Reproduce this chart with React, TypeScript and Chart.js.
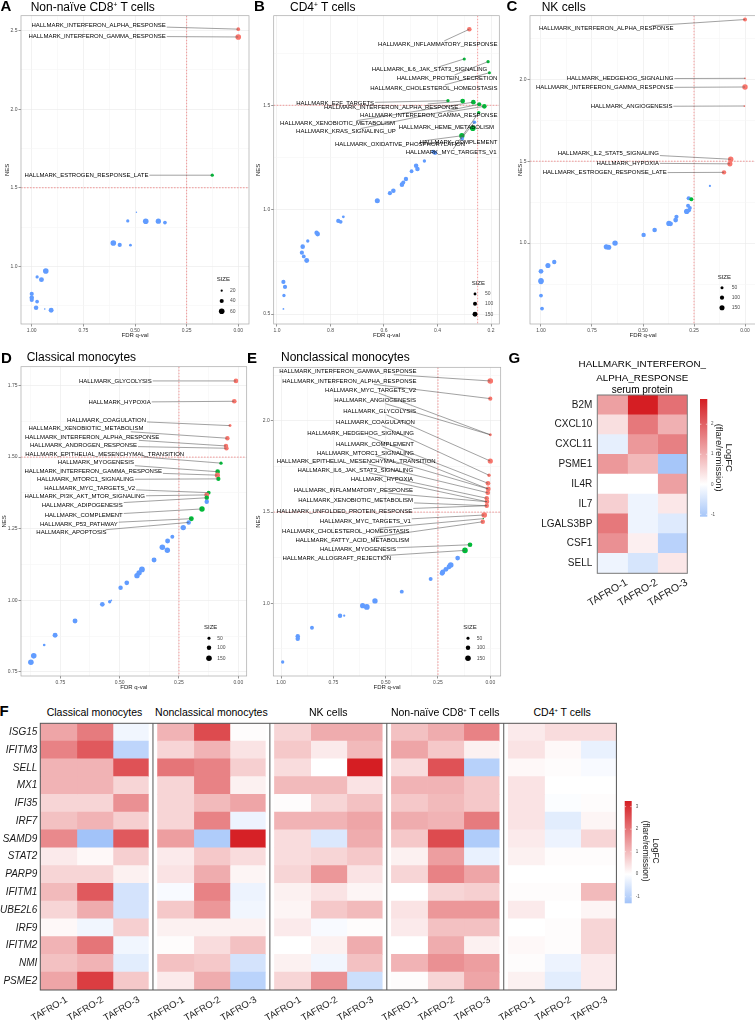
import React, { useEffect, useRef } from 'react';
import { Chart, registerables } from 'chart.js';

Chart.register(...registerables);

const FONT = '"Liberation Sans", Arial, Helvetica, sans-serif';
Chart.defaults.font.family = FONT;

const GROUP_COLORS: Record<string, string> = { r: '#F8766D', g: '#00BA38', b: '#619CFF' };
const FDR_CUTOFF = 0.25;
const NES_CUTOFF = 1.5;

/* ---------------- Panel A: Non-naive CD8+ T cells ---------------- */
const A_FDR = [0.0, 0.0, 0.126, 0.493, 0.535, 0.448, 0.387, 0.355, 0.605, 0.574, 0.522, 0.932, 0.974, 0.953, 1.0, 1.0, 1.0, 0.974, 0.979, 0.937, 0.906];
const A_NES = [2.51, 2.46, 1.58, 1.344, 1.289, 1.287, 1.287, 1.278, 1.148, 1.136, 1.134, 0.97, 0.932, 0.915, 0.824, 0.8, 0.785, 0.775, 0.736, 0.728, 0.72];
const A_SIZE = [35, 60, 30, 10, 30, 60, 55, 35, 60, 40, 25, 60, 30, 50, 40, 45, 40, 35, 45, 15, 50];
const A_GROUP = 'rrgbbbbbbbbbbbbbbbbbb';
const A_LABELS = ['HALLMARK_INTERFERON_ALPHA_RESPONSE', 'HALLMARK_INTERFERON_GAMMA_RESPONSE', 'HALLMARK_ESTROGEN_RESPONSE_LATE'];
const A_LABEL_POINT = [0, 1, 2];
const A_LABEL_AT = [[0.351, 2.535], [0.351, 2.465], [0.435, 1.58]];

/* ---------------- Panel B: CD4+ T cells ---------------- */
const B_FDR = [0.281, 0.3, 0.211, 0.206, 0.361, 0.306, 0.266, 0.244, 0.225, 0.246, 0.262, 0.268, 0.309, 0.308, 0.409, 0.416, 0.449, 0.48, 0.475, 0.497, 0.518, 0.533, 0.528, 0.565, 0.578, 0.625, 0.752, 0.771, 0.762, 0.848, 0.852, 0.885, 0.904, 0.907, 0.9, 0.889, 0.976, 0.97, 0.974, 0.976];
const B_NES = [1.864, 1.722, 1.709, 1.656, 1.522, 1.52, 1.515, 1.505, 1.495, 1.465, 1.419, 1.39, 1.354, 1.34, 1.272, 1.278, 1.233, 1.21, 1.195, 1.184, 1.147, 1.12, 1.13, 1.091, 1.079, 1.043, 0.966, 0.946, 0.942, 0.883, 0.89, 0.85, 0.823, 0.794, 0.776, 0.757, 0.654, 0.63, 0.589, 0.525];
const B_SIZE = [130, 60, 70, 60, 70, 140, 140, 110, 140, 70, 80, 200, 180, 90, 110, 90, 70, 130, 130, 90, 120, 130, 100, 130, 110, 160, 50, 110, 90, 140, 120, 70, 130, 110, 90, 150, 110, 110, 70, 20];
const B_GROUP = 'rgggggggggbggbbbbbbbbbbbbbbbbbbbbbbbbbbb';
const B_LABELS = ['HALLMARK_INFLAMMATORY_RESPONSE', 'HALLMARK_IL6_JAK_STAT3_SIGNALING', 'HALLMARK_PROTEIN_SECRETION', 'HALLMARK_CHOLESTEROL_HOMEOSTASIS', 'HALLMARK_E2F_TARGETS', 'HALLMARK_INTERFERON_ALPHA_RESPONSE', 'HALLMARK_INTERFERON_GAMMA_RESPONSE', 'HALLMARK_XENOBIOTIC_METABOLISM', 'HALLMARK_HEME_METABOLISM', 'HALLMARK_KRAS_SIGNALING_UP', 'HALLMARK_OXIDATIVE_PHOSPHORYLATION', 'HALLMARK_COMPLEMENT', 'HALLMARK_MYC_TARGETS_V1'];
const B_LABEL_POINT = [0, 1, 2, 3, 4, 5, 8, 6, 11, 7, 12, 10, 9];
const B_LABEL_AT = [[0.176, 1.794], [0.214, 1.67], [0.176, 1.631], [0.176, 1.583], [0.637, 1.51], [0.322, 1.492], [0.176, 1.452], [0.559, 1.412], [0.189, 1.393], [0.556, 1.374], [0.297, 1.315], [0.176, 1.323], [0.179, 1.276]];

/* ---------------- Panel C: NK cells ---------------- */
const C_FDR = [0.0, 0.0, 0.0, 0.003, 0.07, 0.074, 0.103, 0.172, 0.276, 0.263, 0.279, 0.27, 0.286, 0.275, 0.34, 0.336, 0.373, 0.365, 0.443, 0.497, 0.637, 0.668, 0.68, 0.935, 0.966, 1.0, 1.0, 1.0, 1.0, 0.995];
const C_NES = [2.365, 2.006, 1.953, 1.837, 1.512, 1.484, 1.432, 1.349, 1.274, 1.268, 1.228, 1.215, 1.193, 1.2, 1.141, 1.161, 1.12, 1.118, 1.08, 1.05, 1.0, 0.975, 0.977, 0.885, 0.863, 0.828, 0.77, 0.765, 0.68, 0.6];
const C_SIZE = [90, 15, 170, 15, 170, 150, 110, 25, 100, 90, 90, 80, 160, 100, 130, 100, 160, 130, 120, 110, 170, 150, 150, 110, 150, 130, 170, 150, 80, 80];
const C_GROUP = 'rrrrrrrbbgbbbbbbbbbbbbbbbbbbbb';
const C_LABELS = ['HALLMARK_INTERFERON_ALPHA_RESPONSE', 'HALLMARK_HEDGEHOG_SIGNALING', 'HALLMARK_INTERFERON_GAMMA_RESPONSE', 'HALLMARK_ANGIOGENESIS', 'HALLMARK_IL2_STAT5_SIGNALING', 'HALLMARK_HYPOXIA', 'HALLMARK_ESTROGEN_RESPONSE_LATE'];
const C_LABEL_POINT = [0, 1, 2, 3, 4, 5, 6];
const C_LABEL_AT = [[0.351, 2.309], [0.351, 2.004], [0.351, 1.949], [0.356, 1.835], [0.422, 1.551], [0.422, 1.488], [0.384, 1.429]];

/* ---------------- Panel D: Classical monocytes ---------------- */
const D_FDR = [0.01, 0.017, 0.035, 0.046, 0.052, 0.05, 0.073, 0.087, 0.088, 0.084, 0.125, 0.133, 0.133, 0.133, 0.153, 0.198, 0.209, 0.232, 0.278, 0.298, 0.32, 0.299, 0.355, 0.406, 0.418, 0.427, 0.47, 0.496, 0.542, 0.535, 0.573, 0.688, 0.772, 0.818, 0.862, 0.874];
const D_NES = [1.766, 1.695, 1.61, 1.566, 1.539, 1.531, 1.479, 1.449, 1.437, 1.424, 1.376, 1.368, 1.358, 1.344, 1.319, 1.285, 1.272, 1.254, 1.222, 1.207, 1.185, 1.175, 1.141, 1.108, 1.096, 1.086, 1.061, 1.044, 0.995, 1.0, 0.986, 0.928, 0.878, 0.844, 0.806, 0.784];
const D_SIZE = [110, 110, 50, 100, 100, 100, 60, 110, 130, 90, 80, 120, 100, 100, 140, 120, 100, 140, 80, 120, 150, 140, 120, 160, 140, 140, 110, 100, 60, 20, 110, 120, 120, 40, 150, 150];
const D_GROUP = 'rrrrrrggrggrgbggbbbbbbbbbbbbbbbbbbbb';
const D_LABELS = ['HALLMARK_GLYCOLYSIS', 'HALLMARK_HYPOXIA', 'HALLMARK_COAGULATION', 'HALLMARK_XENOBIOTIC_METABOLISM', 'HALLMARK_INTERFERON_ALPHA_RESPONSE', 'HALLMARK_ANDROGEN_RESPONSE', 'HALLMARK_EPITHELIAL_MESENCHYMAL_TRANSITION', 'HALLMARK_MYOGENESIS', 'HALLMARK_INTERFERON_GAMMA_RESPONSE', 'HALLMARK_MTORC1_SIGNALING', 'HALLMARK_MYC_TARGETS_V2', 'HALLMARK_PI3K_AKT_MTOR_SIGNALING', 'HALLMARK_ADIPOGENESIS', 'HALLMARK_COMPLEMENT', 'HALLMARK_P53_PATHWAY', 'HALLMARK_APOPTOSIS'];
const D_LABEL_POINT = [0, 1, 2, 3, 4, 5, 6, 7, 8, 9, 10, 11, 12, 14, 15, 16];
const D_LABEL_AT = [[0.365, 1.766], [0.369, 1.692], [0.389, 1.629], [0.4, 1.599], [0.333, 1.569], [0.427, 1.54], [0.228, 1.511], [0.44, 1.48], [0.322, 1.451], [0.44, 1.422], [0.435, 1.392], [0.393, 1.362], [0.487, 1.333], [0.487, 1.295], [0.508, 1.266], [0.555, 1.236]];

/* ---------------- Panel E: Nonclassical monocytes ---------------- */
const E_FDR = [0.0, 0.0, 0.0, 0.0, 0.006, 0.011, 0.01, 0.012, 0.017, 0.016, 0.017, 0.029, 0.033, 0.036, 0.097, 0.121, 0.156, 0.189, 0.197, 0.212, 0.227, 0.23, 0.285, 0.423, 0.551, 0.59, 0.61, 0.718, 0.698, 0.852, 0.92, 0.92, 0.992];
const E_NES = [2.219, 2.122, 1.924, 1.78, 1.702, 1.658, 1.627, 1.606, 1.576, 1.557, 1.535, 1.484, 1.464, 1.447, 1.321, 1.29, 1.248, 1.21, 1.2, 1.186, 1.172, 1.165, 1.133, 1.064, 1.013, 0.98, 0.987, 0.932, 0.932, 0.866, 0.82, 0.806, 0.678];
const E_SIZE = [150, 90, 50, 130, 60, 110, 120, 110, 100, 110, 100, 150, 10, 100, 110, 150, 110, 150, 120, 120, 120, 120, 80, 80, 140, 160, 130, 100, 30, 80, 100, 100, 60];
const E_GROUP = 'rrrrrrrrrrrrgrggbbbbbbbbbbbbbbbbb';
const E_LABELS = ['HALLMARK_INTERFERON_GAMMA_RESPONSE', 'HALLMARK_INTERFERON_ALPHA_RESPONSE', 'HALLMARK_MYC_TARGETS_V2', 'HALLMARK_ANGIOGENESIS', 'HALLMARK_GLYCOLYSIS', 'HALLMARK_COAGULATION', 'HALLMARK_HEDGEHOG_SIGNALING', 'HALLMARK_COMPLEMENT', 'HALLMARK_MTORC1_SIGNALING', 'HALLMARK_EPITHELIAL_MESENCHYMAL_TRANSITION', 'HALLMARK_IL6_JAK_STAT3_SIGNALING', 'HALLMARK_HYPOXIA', 'HALLMARK_INFLAMMATORY_RESPONSE', 'HALLMARK_XENOBIOTIC_METABOLISM', 'HALLMARK_UNFOLDED_PROTEIN_RESPONSE', 'HALLMARK_MYC_TARGETS_V1', 'HALLMARK_CHOLESTEROL_HOMEOSTASIS', 'HALLMARK_FATTY_ACID_METABOLISM', 'HALLMARK_MYOGENESIS', 'HALLMARK_ALLOGRAFT_REJECTION'];
const E_LABEL_POINT = [0, 1, 2, 2, 3, 4, 5, 6, 6, 7, 8, 9, 9, 10, 10, 11, 12, 13, 14, 15];
const E_LABEL_AT = [[0.352, 2.27], [0.352, 2.217], [0.355, 2.169], [0.355, 2.111], [0.355, 2.05], [0.36, 1.99], [0.365, 1.932], [0.365, 1.873], [0.365, 1.824], [0.261, 1.78], [0.369, 1.731], [0.369, 1.68], [0.369, 1.62], [0.369, 1.563], [0.373, 1.506], [0.38, 1.45], [0.387, 1.395], [0.387, 1.345], [0.451, 1.296], [0.474, 1.245]];

/* ---------------- Panel F: heatmap ---------------- */
const F_GENES = ['ISG15', 'IFITM3', 'SELL', 'MX1', 'IFI35', 'IRF7', 'SAMD9', 'STAT2', 'PARP9', 'IFITM1', 'UBE2L6', 'IRF9', 'IFITM2', 'NMI', 'PSME2'];
const F_PATIENTS = ['TAFRO-1', 'TAFRO-2', 'TAFRO-3'];
const F_GROUP_TITLES = ['Classical monocytes', 'Nonclassical monocytes', 'NK cells', 'Non-naïve CD8', 'CD4'];
const F_CLASSICAL = [[1.3, 1.9, -0.2], [1.8, 2.4, -0.9], [1.1, 1.1, 2.5], [1.1, 1.1, 0.6], [0.6, 0.6, 1.6], [0.9, 1.1, 0.7], [1.7, -1.29, 2.4], [0.3, 0.1, 0.7], [0.6, 0.6, 0.2], [1.0, 2.4, -0.6], [0.6, 1.2, -0.6], [0.1, -0.2, 0.7], [1.1, 2.0, -0.2], [0.9, 1.1, -0.4], [1.3, 2.8, 0.8]];
const F_NONCLASSICAL = [[1.1, 2.6, 0.05], [0.6, 1.1, 0.4], [2.0, 1.8, 0.7], [0.6, 1.8, 0.2], [0.6, 1.0, 1.3], [0.6, 1.8, -0.25], [1.4, -1.1, 3.2], [0.3, 0.8, 0.5], [0.4, 1.2, 0.15], [-0.1, 1.8, -0.25], [0.8, 1.5, -0.2], [0.2, 0.2, 0.2], [0.05, 0.5, 0.9], [0.9, 0.8, -0.6], [0.3, 1.2, -0.95]];
const F_NK = [[0.6, 1.2, 1.2], [0.8, 0.3, 1.0], [0.5, 0.0, 3.25], [1.0, 1.0, 0.4], [0.05, 0.6, 0.9], [1.1, 1.1, 1.3], [0.5, -0.5, 1.2], [0.5, 0.6, 0.8], [0.6, 1.5, 0.4], [0.2, 0.4, 0.15], [0.15, 0.8, 1.0], [0.3, -0.1, 0.05], [0.0, 0.2, 1.2], [0.2, -0.2, 0.9], [0.6, 1.6, -0.7]];
const F_CD8 = [[0.9, 1.2, 1.8], [1.3, 0.8, 0.2], [0.5, 2.5, -1.0], [1.1, 1.1, 0.8], [0.8, 1.0, 0.8], [1.2, 1.1, 1.9], [0.8, 2.6, -1.1], [0.2, 1.4, -0.3], [0.6, 1.8, 1.3], [0.0, 0.6, 0.7], [0.4, 1.5, 1.5], [0.3, 0.9, 0.9], [0.0, 1.2, 0.2], [1.1, 1.6, 1.4], [0.05, 0.6, 1.3]];
const F_CD4 = [[0.3, 0.5, 0.5], [0.4, 0.1, -0.3], [0.1, 0.05, -0.1], [0.4, 0.0, 0.0], [0.4, -0.05, 0.05], [0.4, -0.4, 0.15], [0.3, -0.25, 0.6], [0.2, 0.05, 0.05], [0.0, 0.0, 0.0], [0.05, 0.05, 1.0], [0.3, 0.0, 0.15], [0.0, 0.05, 0.6], [0.1, 0.05, 0.6], [0.05, -0.25, 0.3], [0.2, -0.4, 0.3]];
const F_TICKS = [3, 2, 1, 0, -1];

/* ---------------- Panel G: serum protein heatmap ---------------- */
const G_GENES = ['B2M', 'CXCL10', 'CXCL11', 'PSME1', 'IL4R', 'IL7', 'LGALS3BP', 'CSF1', 'SELL'];
const G_VALUES = [[1.2, 2.84, 1.8], [0.4, 1.7, 1.0], [-0.3, 1.3, 1.6], [1.3, 0.9, -1.08], [0.0, 0.0, 1.2], [0.6, -0.2, 0.3], [1.7, -0.2, -0.4], [1.4, 0.2, -0.85], [-0.2, -0.5, 0.3]];
const G_TICKS = [2, 1, 0, -1];

/* ---------------- helpers ---------------- */
type Axis = { min: number; max: number; major: number[]; minor: number[]; dec: number };
type Box = { L: number; T: number; R: number; B: number };
type ScatterSpec = {
  fdr: number[]; nes: number[]; size: number[]; group: string;
  labels: string[]; labelPoint: number[]; labelAt: number[][];
  x: Axis; y: Axis; box: Box; nesDx: number;
  sizeBreaks: number[]; rA: number; rB: number;
  legend: { tx: number; ty: number; dx: number; lx: number; ys: number[] };
};

const X_MINOR4 = [0.125, 0.375, 0.625, 0.875];
const X_MAJOR5 = [0, 0.25, 0.5, 0.75, 1];

const SPEC_A: ScatterSpec = {
  fdr: A_FDR, nes: A_NES, size: A_SIZE, group: A_GROUP,
  labels: A_LABELS, labelPoint: A_LABEL_POINT, labelAt: A_LABEL_AT,
  x: { min: -0.052, max: 1.052, major: X_MAJOR5, minor: X_MINOR4, dec: 2 },
  y: { min: 0.6325, max: 2.5955, major: [1, 1.5, 2, 2.5], minor: [0.75, 1.25, 1.75, 2.25], dec: 1 },
  box: { L: 21, T: 15.7, R: 249, B: 324 }, nesDx: -14,
  sizeBreaks: [20, 40, 60], rA: -1.22, rB: 0.52,
  legend: { tx: -32.3, ty: -45, dx: -27.3, lx: -19, ys: [-33.3, -23, -12.7] },
};
const SPEC_B: ScatterSpec = {
  fdr: B_FDR, nes: B_NES, size: B_SIZE, group: B_GROUP,
  labels: B_LABELS, labelPoint: B_LABEL_POINT, labelAt: B_LABEL_AT,
  x: { min: 0.169, max: 1.0123, major: [0.2, 0.4, 0.6, 0.8, 1.0], minor: [0.3, 0.5, 0.7, 0.9], dec: 1 },
  y: { min: 0.4526, max: 1.929, major: [0.5, 1, 1.5], minor: [0.75, 1.25, 1.75], dec: 1 },
  box: { L: 273.7, T: 15.7, R: 499.3, B: 324 }, nesDx: -15,
  sizeBreaks: [50, 100, 150], rA: 0, rB: 0.2,
  legend: { tx: -27.6, ty: -40.3, dx: -24.3, lx: -14.3, ys: [-30, -20.3, -9.7] },
};
const SPEC_C: ScatterSpec = {
  fdr: C_FDR, nes: C_NES, size: C_SIZE, group: C_GROUP,
  labels: C_LABELS, labelPoint: C_LABEL_POINT, labelAt: C_LABEL_AT,
  x: { min: -0.0539, max: 1.0539, major: X_MAJOR5, minor: X_MINOR4, dec: 2 },
  y: { min: 0.5061, max: 2.3884, major: [1, 1.5, 2], minor: [0.75, 1.25, 1.75, 2.25], dec: 1 },
  box: { L: 530, T: 15.7, R: 756, B: 324 }, nesDx: -10,
  sizeBreaks: [50, 100, 150], rA: 0.1, rB: 0.2,
  legend: { tx: -38.3, ty: -47, dx: -34, lx: -24.3, ys: [-36.3, -26.3, -16.3] },
};
const SPEC_D: ScatterSpec = {
  fdr: D_FDR, nes: D_NES, size: D_SIZE, group: D_GROUP,
  labels: D_LABELS, labelPoint: D_LABEL_POINT, labelAt: D_LABEL_AT,
  x: { min: -0.0354, max: 0.9157, major: [0, 0.25, 0.5, 0.75], minor: X_MINOR4, dec: 2 },
  y: { min: 0.7357, max: 1.8157, major: [0.75, 1, 1.25, 1.5, 1.75], minor: [0.875, 1.125, 1.375, 1.625], dec: 2 },
  box: { L: 21, T: 366.7, R: 246.7, B: 676 }, nesDx: -17,
  sizeBreaks: [50, 100, 150], rA: -0.27, rB: 0.25,
  legend: { tx: -42.7, ty: -48.7, dx: -37.7, lx: -29.4, ys: [-37.7, -28.3, -17.7] },
};
const SPEC_E: ScatterSpec = {
  fdr: E_FDR, nes: E_NES, size: E_SIZE, group: E_GROUP,
  labels: E_LABELS, labelPoint: E_LABEL_POINT, labelAt: E_LABEL_AT,
  x: { min: -0.0497, max: 1.0368, major: X_MAJOR5, minor: X_MINOR4, dec: 2 },
  y: { min: 0.6014, max: 2.2939, major: [1, 1.5, 2], minor: [0.75, 1.25, 1.75, 2.25], dec: 1 },
  box: { L: 273.3, T: 367.3, R: 500.7, B: 676 }, nesDx: -15,
  sizeBreaks: [50, 100, 150], rA: -0.27, rB: 0.25,
  legend: { tx: -37.4, ty: -48.3, dx: -32.7, lx: -24, ys: [-37.7, -28.3, -17.7] },
};

const YW = 22, PT = 4, PR = 6, XH = 20;
function scatterGeom(box: Box) {
  const left = Math.floor(box.L - YW), top = Math.floor(box.T - PT);
  const right = Math.ceil(box.R + PR), bottom = Math.ceil(box.B + XH);
  return { left, top, w: right - left, h: bottom - top, padT: box.T - top, padR: right - box.R, yw: box.L - left, xh: bottom - box.B };
}

function linearAxis(ax: Axis, horizontal: boolean, fixed: number) {
  const isMajor = (v: number) => ax.major.some((m) => Math.abs(m - v) < 1e-9);
  const all = [...ax.major, ...ax.minor].sort((a, b) => a - b);
  return {
    type: 'linear',
    reverse: horizontal,
    min: ax.min,
    max: ax.max,
    afterBuildTicks: (s: any) => { s.ticks = all.map((v) => ({ value: v })); },
    afterFit: (s: any) => {
      if (horizontal) s.height = fixed; else s.width = fixed;
      s.paddingLeft = 0; s.paddingRight = 0; s.paddingTop = 0; s.paddingBottom = 0;
    },
    ticks: {
      autoSkip: false, maxRotation: 0, minRotation: 0, padding: 1,
      color: '#4D4D4D', font: { size: 5, family: FONT },
      callback: (v: any) => (isMajor(Number(v)) ? Number(v).toFixed(ax.dec) : ''),
    },
    grid: {
      color: (c: any) => (c.tick && isMajor(c.tick.value) ? '#EAEAEA' : '#F5F5F5'),
      tickColor: (c: any) => (c.tick && isMajor(c.tick.value) ? '#4D4D4D' : 'rgba(0,0,0,0)'),
      lineWidth: 0.6, tickLength: 2.5, drawTicks: true,
    },
    border: { display: false },
  };
}

function scatterDecor(spec: ScatterSpec, radius: (v: number) => number) {
  return {
    id: 'scatterDecor',
    beforeDatasetsDraw(chart: any) {
      const { ctx, chartArea: a, scales } = chart;
      ctx.save();
      ctx.beginPath(); ctx.rect(a.left, a.top, a.right - a.left, a.bottom - a.top); ctx.clip();
      ctx.strokeStyle = '#EE5A5A'; ctx.lineWidth = 0.6; ctx.setLineDash([1.6, 1.4]);
      const vx = scales.x.getPixelForValue(FDR_CUTOFF);
      ctx.beginPath(); ctx.moveTo(vx, a.top); ctx.lineTo(vx, a.bottom); ctx.stroke();
      const hy = scales.y.getPixelForValue(NES_CUTOFF);
      ctx.beginPath(); ctx.moveTo(a.left, hy); ctx.lineTo(a.right, hy); ctx.stroke();
      ctx.restore();
    },
    afterDatasetsDraw(chart: any) {
      const { ctx, scales } = chart;
      const xs = scales.x, ys = scales.y;
      ctx.save();
      ctx.font = `6px ${FONT}`;
      const boxes = spec.labels.map((t, i) => {
        const px = xs.getPixelForValue(spec.labelAt[i][0]);
        const py = ys.getPixelForValue(spec.labelAt[i][1]);
        return { t, px, py, w: ctx.measureText(t).width };
      });
      ctx.strokeStyle = '#555'; ctx.lineWidth = 0.55;
      boxes.forEach((b, i) => {
        const p = spec.labelPoint[i];
        const qx = xs.getPixelForValue(spec.fdr[p]);
        const qy = ys.getPixelForValue(spec.nes[p]);
        const cx = b.px - b.w / 2, cy = b.py;
        const dx = qx - cx, dy = qy - cy;
        const hw = b.w / 2 + 1, hh = 3;
        const t1 = Math.min(dx ? hw / Math.abs(dx) : Infinity, dy ? hh / Math.abs(dy) : Infinity);
        if (t1 >= 1) return;
        const sx = cx + dx * t1, sy = cy + dy * t1;
        if (Math.hypot(qx - sx, qy - sy) < 2.5) return;
        ctx.beginPath(); ctx.moveTo(sx, sy); ctx.lineTo(qx, qy); ctx.stroke();
      });
      ctx.fillStyle = '#000'; ctx.textAlign = 'right'; ctx.textBaseline = 'middle';
      boxes.forEach((b) => ctx.fillText(b.t, b.px, b.py));
      ctx.restore();
    },
    afterDraw(chart: any) {
      const { ctx, chartArea: a } = chart;
      ctx.save();
      ctx.strokeStyle = '#A8A8A8'; ctx.lineWidth = 0.7;
      ctx.strokeRect(a.left, a.top, a.right - a.left, a.bottom - a.top);
      ctx.fillStyle = '#1A1A1A'; ctx.font = `6px ${FONT}`; ctx.textAlign = 'center'; ctx.textBaseline = 'middle';
      ctx.fillText('FDR q-val', (a.left + a.right) / 2, a.bottom + 11);
      ctx.save();
      ctx.translate(a.left + spec.nesDx, (a.top + a.bottom) / 2);
      ctx.rotate(-Math.PI / 2);
      ctx.fillText('NES', 0, 0);
      ctx.restore();
      const lg = spec.legend;
      ctx.textAlign = 'left';
      ctx.fillText('SIZE', a.right + lg.tx, a.bottom + lg.ty);
      spec.sizeBreaks.forEach((v, i) => {
        const y = a.bottom + lg.ys[i];
        ctx.fillStyle = '#000';
        ctx.beginPath(); ctx.arc(a.right + lg.dx, y, radius(v), 0, Math.PI * 2); ctx.fill();
        ctx.fillStyle = '#4D4D4D'; ctx.font = `5px ${FONT}`;
        ctx.fillText(String(v), a.right + lg.lx, y);
      });
      ctx.restore();
    },
  };
}

function buildScatter(spec: ScatterSpec) {
  const g = scatterGeom(spec.box);
  const radius = (v: number) => Math.max(0.7, spec.rA + spec.rB * Math.sqrt(v));
  const colors = spec.fdr.map((_, i) => GROUP_COLORS[spec.group[i]]);
  const radii = spec.size.map(radius);
  return {
    type: 'scatter',
    data: {
      datasets: [{
        data: spec.fdr.map((x, i) => ({ x, y: spec.nes[i] })),
        pointRadius: radii, pointHoverRadius: radii,
        pointBackgroundColor: colors, pointBorderColor: colors, pointBorderWidth: 0,
        showLine: false,
      }],
    },
    options: {
      responsive: false, animation: false, events: [],
      layout: { padding: { top: g.padT, right: g.padR, left: 0, bottom: 0 } },
      plugins: { legend: { display: false }, tooltip: { enabled: false } },
      scales: { x: linearAxis(spec.x, true, g.xh), y: linearAxis(spec.y, false, g.yw) },
    },
    plugins: [scatterDecor(spec, radius)],
  };
}

/* ---------------- heatmaps ---------------- */
const HIGH = [213, 30, 35];
const LOW = [20, 105, 240];
function heatColor(v: number, M: number) {
  const t = Math.min(1, Math.abs(v) / M);
  const c = v >= 0 ? HIGH : LOW;
  const mix = (k: number) => Math.round(255 + (c[k] - 255) * t);
  return `rgb(${mix(0)},${mix(1)},${mix(2)})`;
}

type HeatSpec = {
  genes: string[]; groups: number[][][]; colLabels: string[]; gap: number;
  box: Box; canvas: { left: number; top: number; w: number; h: number };
  rowFont: any; rowPad: number; colFont: number; colDx: number; colDy: number; frame: string;
  bar: { x0: number; x1: number; y0: number; y1: number }; barTicks: number[]; barLabelDx: number; tickFont: number;
  title: { cx: number; cy: number; size: number; gap: number };
};

const SPEC_F: HeatSpec = {
  genes: F_GENES, groups: [F_CLASSICAL, F_NONCLASSICAL, F_NK, F_CD8, F_CD4], colLabels: F_PATIENTS, gap: 0.236,
  box: { L: 40.3, T: 723.3, R: 616.4, B: 990 }, canvas: { left: 0, top: 720, w: 680, h: 300 },
  rowFont: { size: 10, style: 'italic', family: FONT }, rowPad: 3, colFont: 9.5, colDx: 6, colDy: 5, frame: '#555',
  bar: { x0: 624.7, x1: 631.7, y0: 801, y1: 903.3 }, barTicks: F_TICKS, barLabelDx: 4, tickFont: 4.5,
  title: { cx: 650.3, cy: 851, size: 8.5, gap: 10.7 },
};
const SPEC_G: HeatSpec = {
  genes: G_GENES, groups: [G_VALUES], colLabels: F_PATIENTS, gap: 0,
  box: { L: 597.3, T: 395, R: 687.3, B: 573.3 }, canvas: { left: 530, top: 392, w: 225, h: 230 },
  rowFont: { size: 10, family: FONT }, rowPad: 5, colFont: 10.5, colDx: 12, colDy: 4, frame: '#777',
  bar: { x0: 700, x1: 707.3, y0: 399, y1: 516.7 }, barTicks: G_TICKS, barLabelDx: 3.7, tickFont: 4.5,
  title: { cx: 723.3, cy: 457.7, size: 9.5, gap: 10 },
};

function heatDecor(spec: HeatSpec, vmin: number, vmax: number, M: number, period: number) {
  return {
    id: 'heatDecor',
    afterDatasetsDraw(chart: any) {
      const { ctx, chartArea: a, scales } = chart;
      const xs = scales.x;
      ctx.save();
      ctx.strokeStyle = spec.frame; ctx.lineWidth = 1;
      ctx.strokeRect(a.left, a.top, a.right - a.left, a.bottom - a.top);
      for (let gi = 1; gi < spec.groups.length; gi++) {
        const sx = xs.getPixelForValue(gi * period - spec.gap / 2);
        ctx.beginPath(); ctx.moveTo(sx, a.top); ctx.lineTo(sx, a.bottom); ctx.stroke();
      }
      ctx.fillStyle = '#1A1A1A'; ctx.font = `${spec.colFont}px ${FONT}`;
      ctx.textAlign = 'right'; ctx.textBaseline = 'top';
      spec.groups.forEach((_, gi) => spec.colLabels.forEach((lab, c) => {
        const cx = xs.getPixelForValue(gi * period + c + 0.5);
        ctx.save();
        ctx.translate(cx + spec.colDx, a.bottom + spec.colDy);
        ctx.rotate(-Math.PI / 6);
        ctx.fillText(lab, 0, 0);
        ctx.restore();
      }));
      const cv = spec.canvas, bar = spec.bar;
      const x0 = bar.x0 - cv.left, x1 = bar.x1 - cv.left, y0 = bar.y0 - cv.top, y1 = bar.y1 - cv.top;
      const grad = ctx.createLinearGradient(0, y0, 0, y1);
      grad.addColorStop(0, heatColor(vmax, M));
      grad.addColorStop(vmax / (vmax - vmin), heatColor(0, M));
      grad.addColorStop(1, heatColor(vmin, M));
      ctx.fillStyle = grad; ctx.fillRect(x0, y0, x1 - x0, y1 - y0);
      const yOf = (v: number) => y0 + ((vmax - v) / (vmax - vmin)) * (y1 - y0);
      ctx.strokeStyle = '#fff'; ctx.lineWidth = 0.6;
      ctx.fillStyle = '#4D4D4D'; ctx.font = `${spec.tickFont}px ${FONT}`;
      ctx.textAlign = 'left'; ctx.textBaseline = 'middle';
      spec.barTicks.forEach((t) => {
        const ty = yOf(t);
        ctx.beginPath(); ctx.moveTo(x0, ty); ctx.lineTo(x0 + 1.4, ty); ctx.moveTo(x1 - 1.4, ty); ctx.lineTo(x1, ty); ctx.stroke();
        ctx.fillText(String(t), x1 + spec.barLabelDx, ty);
      });
      ctx.fillStyle = '#1A1A1A'; ctx.font = `${spec.title.size}px ${FONT}`;
      ctx.textAlign = 'center'; ctx.textBaseline = 'middle';
      ctx.translate(spec.title.cx - cv.left, spec.title.cy - cv.top);
      ctx.rotate(Math.PI / 2);
      ctx.fillText('LogFC', 0, -spec.title.gap / 2);
      ctx.fillText('(flare/remission)', 0, spec.title.gap / 2);
      ctx.restore();
    },
  };
}

function buildHeat(spec: HeatSpec) {
  const vals = spec.groups.flat(2);
  const vmin = Math.min(...vals), vmax = Math.max(...vals);
  const M = Math.max(Math.abs(vmin), Math.abs(vmax));
  const nCol = spec.colLabels.length;
  const period = nCol + spec.gap;
  const xMax = spec.groups.length * period - spec.gap;
  const datasets: any[] = [];
  spec.groups.forEach((grp, gi) => {
    for (let c = 0; c < nCol; c++) {
      const x0 = gi * period + c;
      datasets.push({
        data: spec.genes.map(() => [x0, x0 + (c < nCol - 1 ? 1.02 : 1)]),
        backgroundColor: spec.genes.map((_, r) => heatColor(grp[r][c], M)),
        borderWidth: 0, grouped: false, barPercentage: 1.04, categoryPercentage: 1,
      });
    }
  });
  const b = spec.box, cv = spec.canvas;
  return {
    type: 'bar',
    data: { labels: spec.genes, datasets },
    options: {
      indexAxis: 'y', responsive: false, animation: false, events: [],
      layout: { padding: { top: b.T - cv.top, right: cv.left + cv.w - b.R, left: 0, bottom: 0 } },
      plugins: { legend: { display: false }, tooltip: { enabled: false } },
      scales: {
        x: {
          type: 'linear', min: 0, max: xMax,
          ticks: { display: false }, grid: { display: false, drawTicks: false }, border: { display: false },
          afterFit: (s: any) => { s.height = cv.top + cv.h - b.B; s.paddingLeft = 0; s.paddingRight = 0; },
        },
        y: {
          type: 'category', offset: true,
          ticks: { autoSkip: false, padding: spec.rowPad, color: '#1A1A1A', font: spec.rowFont },
          grid: { display: false, drawTicks: false }, border: { display: false },
          afterFit: (s: any) => { s.width = b.L - cv.left; s.paddingTop = 0; s.paddingBottom = 0; },
        },
      },
    },
    plugins: [heatDecor(spec, vmin, vmax, M, period)],
  };
}

/* ---------------- React components ---------------- */
function ChartCanvas({ left, top, w, h, build }: { left: number; top: number; w: number; h: number; build: () => any }) {
  const ref = useRef<HTMLCanvasElement>(null);
  useEffect(() => {
    const chart = new Chart(ref.current as HTMLCanvasElement, build());
    return () => chart.destroy();
  }, []);
  return <canvas ref={ref} width={w} height={h} style={{ position: 'absolute', left, top, width: w, height: h }} />;
}

function ScatterPanel({ spec }: { spec: ScatterSpec }) {
  const g = scatterGeom(spec.box);
  return <ChartCanvas left={g.left} top={g.top} w={g.w} h={g.h} build={() => buildScatter(spec)} />;
}

function HeatPanel({ spec }: { spec: HeatSpec }) {
  const c = spec.canvas;
  return <ChartCanvas left={c.left} top={c.top} w={c.w} h={c.h} build={() => buildHeat(spec)} />;
}

function Txt({ x, y, size, bold, center, children }: { x: number; y: number; size: number; bold?: boolean; center?: boolean; children: any }) {
  return (
    <div style={{
      position: 'absolute', left: x, top: y - 0.8465 * size, fontSize: size, lineHeight: `${size}px`,
      fontWeight: bold ? 'bold' : 'normal', whiteSpace: 'nowrap', fontFamily: FONT, color: '#000',
      transform: center ? 'translateX(-50%)' : undefined,
    }}>{children}</div>
  );
}

function Sup({ size }: { size: number }) {
  return <span style={{ fontSize: size * 0.55, position: 'relative', top: -size * 0.38 }}>+</span>;
}

export default function App() {
  const fPeriod = 116.9;
  const fCenters = F_GROUP_TITLES.map((_, i) => 40.3 + i * fPeriod + 54.2);
  return (
    <div style={{ position: 'absolute', left: 0, top: 0, width: 755, height: 1020, overflow: 'hidden', background: '#fff', fontFamily: FONT }}>
      <ScatterPanel spec={SPEC_A} />
      <ScatterPanel spec={SPEC_B} />
      <ScatterPanel spec={SPEC_C} />
      <ScatterPanel spec={SPEC_D} />
      <ScatterPanel spec={SPEC_E} />
      <HeatPanel spec={SPEC_G} />
      <HeatPanel spec={SPEC_F} />

      <Txt x={0.5} y={10.7} size={15} bold>A</Txt>
      <Txt x={30.7} y={11.5} size={12}>Non-naïve CD8<Sup size={12} /> T cells</Txt>
      <Txt x={254} y={10.7} size={15} bold>B</Txt>
      <Txt x={290} y={11.5} size={12}>CD4<Sup size={12} /> T cells</Txt>
      <Txt x={506.5} y={10.7} size={15} bold>C</Txt>
      <Txt x={541.7} y={11.5} size={12}>NK cells</Txt>
      <Txt x={1} y={362.5} size={15} bold>D</Txt>
      <Txt x={26.7} y={361.5} size={12}>Classical monocytes</Txt>
      <Txt x={247} y={362.5} size={15} bold>E</Txt>
      <Txt x={281} y={361.5} size={12}>Nonclassical monocytes</Txt>
      <Txt x={508.5} y={362.7} size={15} bold>G</Txt>
      <Txt x={642.3} y={367.7} size={9.8} center>HALLMARK_INTERFERON_</Txt>
      <Txt x={642.3} y={381.7} size={9.8} center>ALPHA_RESPONSE</Txt>
      <Txt x={642.3} y={393} size={10} center>serum protein</Txt>
      <Txt x={-0.5} y={716} size={15} bold>F</Txt>
      <Txt x={fCenters[0]} y={716} size={10.5} center>{F_GROUP_TITLES[0]}</Txt>
      <Txt x={fCenters[1]} y={716} size={10.5} center>{F_GROUP_TITLES[1]}</Txt>
      <Txt x={fCenters[2]} y={716} size={10.5} center>{F_GROUP_TITLES[2]}</Txt>
      <Txt x={fCenters[3]} y={716} size={10.5} center>{F_GROUP_TITLES[3]}<Sup size={10.5} /> T cells</Txt>
      <Txt x={fCenters[4]} y={716} size={10.5} center>{F_GROUP_TITLES[4]}<Sup size={10.5} /> T cells</Txt>
    </div>
  );
}
